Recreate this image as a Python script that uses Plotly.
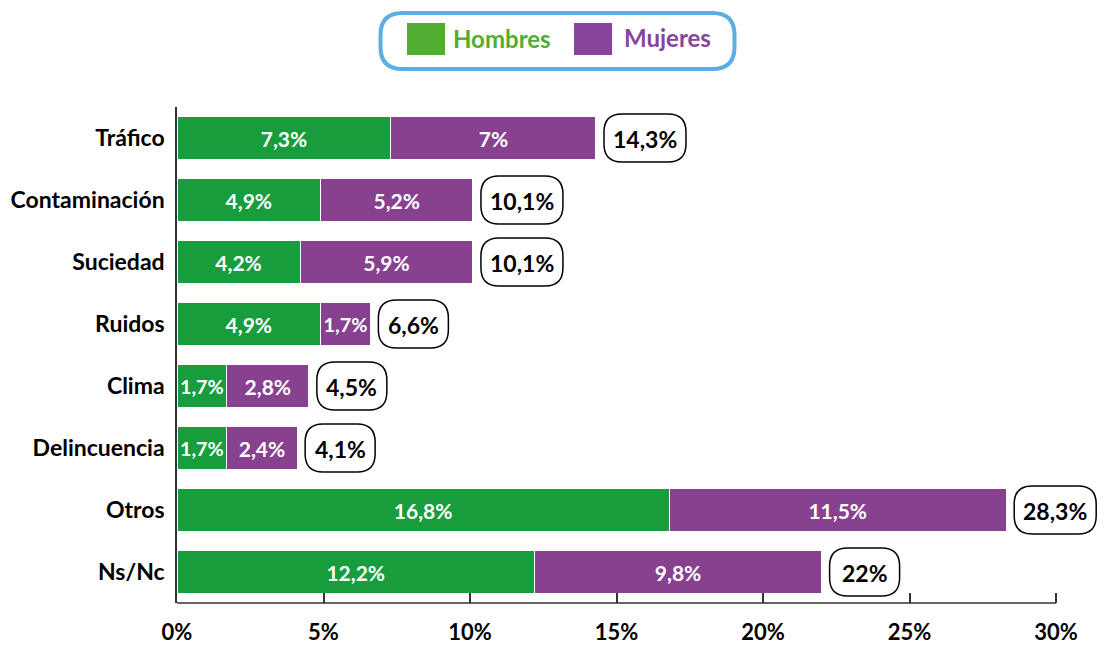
import plotly.graph_objects as go

categories = ["Tráfico", "Contaminación", "Suciedad", "Ruidos", "Clima", "Delincuencia", "Otros", "Ns/Nc"]
hombres = [7.3, 4.9, 4.2, 4.9, 1.7, 1.7, 16.8, 12.2]
mujeres = [7.0, 5.2, 5.9, 1.7, 2.8, 2.4, 11.5, 9.8]
totales = [14.3, 10.1, 10.1, 6.6, 4.5, 4.1, 28.3, 22.0]
tick_vals = [0, 5, 10, 15, 20, 25, 30]
tick_text = ["0%", "5%", "10%", "15%", "20%", "25%", "30%"]
AXIS_MAX = 30

FONT = "Lato"
BAR_GREEN = "#179d3b"
BAR_PURPLE = "#87418f"
LEG_GREEN = "#52ae32"
LEG_PURPLE = "#88449a"


def fmt(v):
    if abs(v - round(v)) < 1e-9:
        return f"{int(round(v))}%"
    return f"{v:.1f}".replace(".", ",") + "%"


W, H = 1103, 646
ML, MR, MT, MB = 177, 0, 107, 43
AXIS_END_PX = 1056  # pixel where 30% sits
PW, PH = W - ML - MR, H - MT - MB
VIEW_MAX = AXIS_MAX * PW / (AXIS_END_PX - ML)


def px_x(p):
    return (p - ML) / PW


def px_y(p):
    return 1 - (p - MT) / PH


def rrect(a, b, r, cx=0):
    return (f"M {cx-a+r},{-b} L {cx+a-r},{-b} Q {cx+a},{-b} {cx+a},{-b+r} "
            f"L {cx+a},{b-r} Q {cx+a},{b} {cx+a-r},{b} L {cx-a+r},{b} "
            f"Q {cx-a},{b} {cx-a},{b-r} L {cx-a},{-b+r} Q {cx-a},{-b} {cx-a+r},{-b} Z")


fig = go.Figure()
fig.add_trace(go.Bar(
    y=categories, x=hombres, orientation="h", name="Hombres",
    marker=dict(color=BAR_GREEN, line=dict(color="white", width=1)),
    text=[fmt(v) for v in hombres], textposition="inside",
    insidetextanchor="middle",
    textfont=dict(family=FONT, size=21, color="white", weight="bold"),
))
fig.add_trace(go.Bar(
    y=categories, x=mujeres, orientation="h", name="Mujeres",
    marker=dict(color=BAR_PURPLE, line=dict(color="white", width=1)),
    text=[fmt(v) for v in mujeres], textposition="inside",
    insidetextanchor="middle",
    textfont=dict(family=FONT, size=21, color="white", weight="bold"),
))

shapes = []
annotations = []
# x-axis line from 0 to 30%
shapes.append(dict(type="line", xref="x", yref="paper", x0=0, x1=AXIS_MAX, y0=0, y1=0,
                   line=dict(color="#333333", width=1.5), layer="above"))

for cat, tot in zip(categories, totales):
    label = fmt(tot)
    w = 70 if len(label) <= 4 else 82
    off = 8 + w / 2
    shapes.append(dict(
        type="path", xref="x", yref="y", xsizemode="pixel", ysizemode="pixel",
        xanchor=tot, yanchor=cat, path=rrect(w / 2, 24, 18, cx=off),
        line=dict(color="black", width=1.5), fillcolor="white", layer="above",
    ))
    annotations.append(dict(
        x=tot, y=cat, xref="x", yref="y", text=f"<b>{label}</b>",
        showarrow=False, xanchor="center", xshift=off, yshift=-1,
        font=dict(family=FONT, size=23, color="black"),
    ))

# Legend (manual)
shapes.append(dict(
    type="path", xref="paper", yref="paper", xsizemode="pixel", ysizemode="pixel",
    xanchor=px_x(557.5), yanchor=px_y(41), path=rrect(177, 28, 22),
    line=dict(color="#5aafe0", width=4), fillcolor="white", layer="above",
))
shapes.append(dict(type="rect", xref="paper", yref="paper",
                   x0=px_x(407), x1=px_x(445), y0=px_y(55), y1=px_y(23),
                   fillcolor=LEG_GREEN, line=dict(width=0)))
shapes.append(dict(type="rect", xref="paper", yref="paper",
                   x0=px_x(574), x1=px_x(612), y0=px_y(55), y1=px_y(23),
                   fillcolor=LEG_PURPLE, line=dict(width=0)))
annotations.append(dict(x=px_x(451), y=px_y(39), xref="paper", yref="paper",
                        text="<b>Hombres</b>", showarrow=False, xanchor="left",
                        yanchor="middle", font=dict(family=FONT, size=24, color=LEG_GREEN)))
annotations.append(dict(x=px_x(622), y=px_y(37), xref="paper", yref="paper",
                        text="<b>Mujeres</b>", showarrow=False, xanchor="left",
                        yanchor="middle", font=dict(family=FONT, size=24, color=LEG_PURPLE)))

fig.update_layout(
    width=W, height=H, barmode="stack", bargap=0.32,
    margin=dict(l=ML, r=MR, t=MT, b=MB, autoexpand=False),
    plot_bgcolor="white", paper_bgcolor="white", showlegend=False,
    shapes=shapes, annotations=annotations,
    xaxis=dict(range=[0, VIEW_MAX], tickmode="array", tickvals=tick_vals, ticktext=tick_text,
               showgrid=False, zeroline=False, showline=False,
               ticks="inside", ticklen=10, tickcolor="#333333",
               tickwidth=1.5, ticklabelstandoff=14,
               tickfont=dict(family=FONT, size=22, color="black", weight="bold")),
    yaxis=dict(categoryorder="array", categoryarray=categories, autorange="reversed",
               showgrid=False, zeroline=False, showline=True, linecolor="#333333",
               linewidth=1.5, layer="below traces", ticks="", ticklabelstandoff=6,
               tickfont=dict(family=FONT, size=23, color="black", weight="bold")),
    font=dict(family=FONT),
)

fig.write_html(
    "out.html",
    config={"displayModeBar": False},
    post_script="document.body.style.margin='0';document.body.style.padding='0';",
)
